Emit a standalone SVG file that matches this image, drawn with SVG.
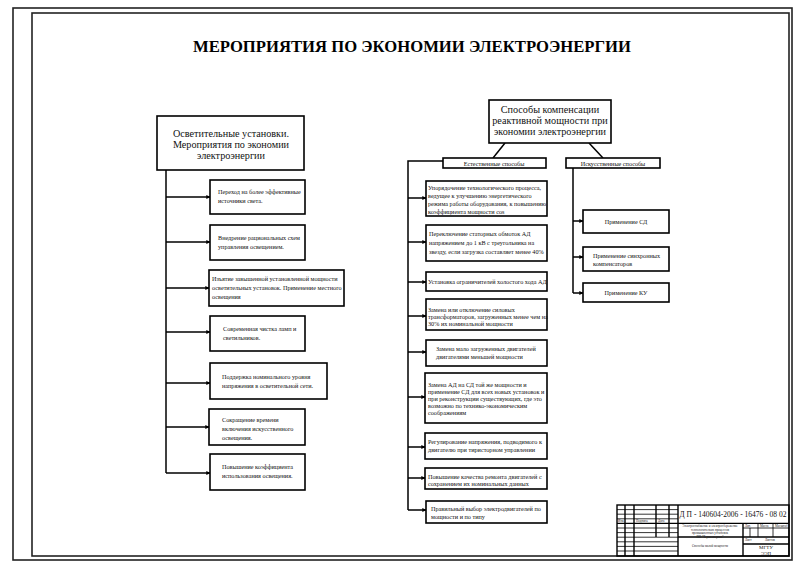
<svg xmlns="http://www.w3.org/2000/svg" width="800" height="565" viewBox="0 0 800 565">
<defs>
<marker id="ar" viewBox="0 0 6 6" refX="5.5" refY="3" markerWidth="4" markerHeight="4" orient="auto" markerUnits="userSpaceOnUse">
<path d="M0,0 L6,3 L0,6 Z" fill="#000"/>
</marker>
</defs>
<style>
.box{fill:#fff;stroke:#000;stroke-width:1.6}
.ln{stroke:#000;stroke-width:1.5;fill:none}
.arr{marker-end:url(#ar)}
.t{font-family:"Liberation Serif","Times New Roman",serif;font-size:6.2px;fill:#111}
.m{font-family:"Liberation Serif","Times New Roman",serif;font-size:10.2px;fill:#111;text-anchor:middle}
.c{text-anchor:middle}
.tb{stroke:#000;stroke-width:0.8;fill:none}
.tbk{stroke:#000;stroke-width:1.4;fill:none}
.s{font-family:"Liberation Serif","Times New Roman",serif;font-size:3.2px;fill:#222}
</style>
<rect width="800" height="565" fill="#fff"/>
<!-- frames -->
<rect x="13" y="8" width="779" height="552" fill="none" stroke="#222" stroke-width="1.6"/>
<rect x="32" y="13" width="757" height="543" fill="none" stroke="#222" stroke-width="1.6"/>
<text x="412" y="52" text-anchor="middle" font-family="'Liberation Serif','Times New Roman',serif" font-size="17" font-weight="bold" textLength="438" lengthAdjust="spacingAndGlyphs">МЕРОПРИЯТИЯ ПО ЭКОНОМИИ ЭЛЕКТРОЭНЕРГИИ</text>

<g id="connectors">
<path class="ln" d="M166,170 V473"/>
<path class="ln arr" d="M166,197 H210"/>
<path class="ln arr" d="M166,242 H210"/>
<path class="ln arr" d="M166,288 H209"/>
<path class="ln arr" d="M166,332 H210"/>
<path class="ln arr" d="M166,383 H210"/>
<path class="ln arr" d="M166,427 H209"/>
<path class="ln arr" d="M166,473 H210"/>
<path class="ln" d="M505,143 L493,158"/>
<path class="ln" d="M589,143 L603,158"/>
<path class="ln" d="M443,161 H408 V510"/>
<path class="ln arr" d="M408,198 H426"/>
<path class="ln arr" d="M408,242 H426"/>
<path class="ln arr" d="M408,282 H426"/>
<path class="ln arr" d="M408,316 H426"/>
<path class="ln arr" d="M408,352 H426"/>
<path class="ln arr" d="M408,397 H425"/>
<path class="ln arr" d="M408,447 H425"/>
<path class="ln arr" d="M408,478 H425"/>
<path class="ln arr" d="M408,510 H426"/>
<path class="ln" d="M573,168 V293"/>
<path class="ln arr" d="M573,221 H583"/>
<path class="ln arr" d="M573,257 H583"/>
<path class="ln arr" d="M573,293 H583"/>
</g>

<g id="n-light">
<rect class="box" x="157" y="116" width="147" height="54"/>
<text class="m" x="231" y="137">Осветительные установки.</text>
<text class="m" x="231" y="148">Мероприятия по экономии</text>
<text class="m" x="231" y="159">электроэнергии</text>
</g>
<g id="n-l1">
<rect class="box" x="210" y="180" width="95" height="34"/>
<text class="t" x="218" y="194">Переход на более эффективные</text>
<text class="t" x="218" y="203">источники света.</text>
</g>
<g id="n-l2">
<rect class="box" x="210" y="225" width="95" height="35"/>
<text class="t" x="218" y="240">Внедрение рациональных схем</text>
<text class="t" x="218" y="249">управления освещением.</text>
</g>
<g id="n-l3">
<rect class="box" x="209" y="270" width="135" height="36"/>
<text class="t" x="212" y="281">Изъятие завышенной установленной мощности</text>
<text class="t" x="212" y="290">осветительных установок. Применение местного</text>
<text class="t" x="212" y="299">освещения</text>
</g>
<g id="n-l4">
<rect class="box" x="210" y="316" width="95" height="35"/>
<text class="t" x="223" y="331">Современная чистка ламп и</text>
<text class="t" x="223" y="340">светильников.</text>
</g>
<g id="n-l5">
<rect class="box" x="210" y="363" width="117" height="36"/>
<text class="t" x="222" y="379">Поддержка номинального уровня</text>
<text class="t" x="222" y="388">напряжения в осветительной сети.</text>
</g>
<g id="n-l6">
<rect class="box" x="209" y="409" width="96" height="36"/>
<text class="t" x="222" y="422">Сокращение времени</text>
<text class="t" x="222" y="431">включения искусственного</text>
<text class="t" x="222" y="440">освещения.</text>
</g>
<g id="n-l7">
<rect class="box" x="210" y="454" width="95" height="36"/>
<text class="t" x="222" y="469">Повышение коэффициента</text>
<text class="t" x="222" y="478">использования освещения.</text>
</g>

<g id="n-comp">
<rect class="box" x="489" y="100" width="122" height="43"/>
<text class="m" x="550" y="113">Способы компенсации</text>
<text class="m" x="550" y="124">реактивной мощности при</text>
<text class="m" x="550" y="135">экономии электроэнергии</text>
</g>
<g id="n-nat">
<rect class="box" x="443" y="158" width="103" height="10"/>
<text class="t c" x="494" y="165.5">Естественные способы</text>
</g>
<g id="n-art">
<rect class="box" x="566" y="158" width="94" height="10"/>
<text class="t c" x="613" y="165.5">Искусственные способы</text>
</g>

<g id="n-m1">
<rect class="box" x="426" y="181" width="121" height="35"/>
<text class="t" x="428" y="190">Упорядочение технологического процесса,</text>
<text class="t" x="428" y="198">ведущее к улучшению энергетического</text>
<text class="t" x="428" y="206">режима работы оборудования, к повышению</text>
<text class="t" x="428" y="214">коэффициента мощности cos</text>
</g>
<g id="n-m2">
<rect class="box" x="426" y="225" width="121" height="36"/>
<text class="t" x="429" y="236">Переключение статорных обмоток АД</text>
<text class="t" x="429" y="245">напряжением до 1 кВ с треугольника на</text>
<text class="t" x="429" y="254">звезду, если загрузка составляет менее 40%</text>
</g>
<g id="n-m3">
<rect class="box" x="426" y="272" width="121" height="19"/>
<text class="t" x="428" y="284">Установка ограничителей холостого хода АД</text>
</g>
<g id="n-m4">
<rect class="box" x="426" y="299" width="121" height="31"/>
<text class="t" x="428" y="312">Замена или отключение силовых</text>
<text class="t" x="428" y="319">трансформаторов, загруженных менее чем на</text>
<text class="t" x="428" y="326">30% их номинальной мощности</text>
</g>
<g id="n-m5">
<rect class="box" x="426" y="340" width="121" height="26"/>
<text class="t" x="436" y="351">Замена мало загруженных двигателей</text>
<text class="t" x="436" y="359">двигателями меньшей мощности</text>
</g>
<g id="n-m6">
<rect class="box" x="425" y="373" width="122" height="50"/>
<text class="t" x="428" y="387">Замена АД на СД той же мощности и</text>
<text class="t" x="428" y="394">применение СД для всех новых установок и</text>
<text class="t" x="428" y="401">при реконструкции существующих, где это</text>
<text class="t" x="428" y="408">возможно по технико-экономическим</text>
<text class="t" x="428" y="415">соображениям</text>
</g>
<g id="n-m7">
<rect class="box" x="425" y="433" width="122" height="26"/>
<text class="t" x="428" y="444">Регулирование напряжения, подводимого к</text>
<text class="t" x="428" y="452">двигателю при тиристорном управлении</text>
</g>
<g id="n-m8">
<rect class="box" x="425" y="468" width="122" height="21"/>
<text class="t" x="428" y="479">Повышение качества ремонта двигателей с</text>
<text class="t" x="428" y="486">сохранением их номинальных данных</text>
</g>
<g id="n-m9">
<rect class="box" x="426" y="501" width="121" height="22"/>
<text class="t" x="431" y="511">Правильный выбор электродвигателей по</text>
<text class="t" x="431" y="519">мощности и по типу</text>
</g>

<g id="n-r1">
<rect class="box" x="583" y="210" width="86" height="23"/>
<text class="t c" x="626" y="224">Применение СД</text>
</g>
<g id="n-r2">
<rect class="box" x="583" y="247" width="86" height="24"/>
<text class="t" x="593" y="258">Применение синхронных</text>
<text class="t" x="593" y="266">компенсаторов</text>
</g>
<g id="n-r3">
<rect class="box" x="583" y="283" width="86" height="19"/>
<text class="t c" x="626" y="295">Применение КУ</text>
</g>

<g id="title-block">
<rect class="tbk" x="617" y="505" width="172" height="51"/>
<path class="tb" d="M617,509.6H678M617,514.2H678M617,518.8H678M617,528H678M617,532.6H678M617,537.2H678M617,541.8H678M617,546.4H678M617,551H678"/>
<path class="tbk" d="M617,523.4H789M678,505V556M678,537H789M743,523.4V556M743,544H789"/>
<path class="tbk" d="M625,505V556M634,505V556M656,505V537M669,505V537"/>
<path class="tb" d="M743,528H789M758,523.4V537M773,523.4V537M750,528V537"/>
<text x="733" y="517" text-anchor="middle" font-family="'Liberation Serif','Times New Roman',serif" font-size="7.5" fill="#111">Д П - 140604-2006 - 16476 - 08 02</text>
<text class="s" x="710" y="527" text-anchor="middle">Электроснабжение и электросбережение</text>
<text class="s" x="710" y="530.5" text-anchor="middle">технологических процессов</text>
<text class="s" x="710" y="534" text-anchor="middle">промышленных установок</text>
<text class="s" x="710" y="537.5" text-anchor="middle">ПП "Термоэнергия"</text>
<text class="s" x="710" y="547" text-anchor="middle">Способы малой мощности</text>
<text class="s" x="745" y="526.5">Лит.</text>
<text class="s" x="760" y="526.5">Масса</text>
<text class="s" x="775" y="526.5">Масштаб</text>
<text class="s" x="745" y="541">Лист</text>
<text class="s" x="765" y="541">Листов</text>
<text x="766" y="549" text-anchor="middle" font-family="'Liberation Serif','Times New Roman',serif" font-size="5" fill="#111">МГТУ</text>
<text x="766" y="554.5" text-anchor="middle" font-family="'Liberation Serif','Times New Roman',serif" font-size="5" fill="#111">ЭЭП</text>
<text class="s" x="636" y="522">Подпись</text>
<text class="s" x="658" y="522">Дата</text>
<text class="s" x="618" y="522">Изм.</text>
</g>
</svg>
